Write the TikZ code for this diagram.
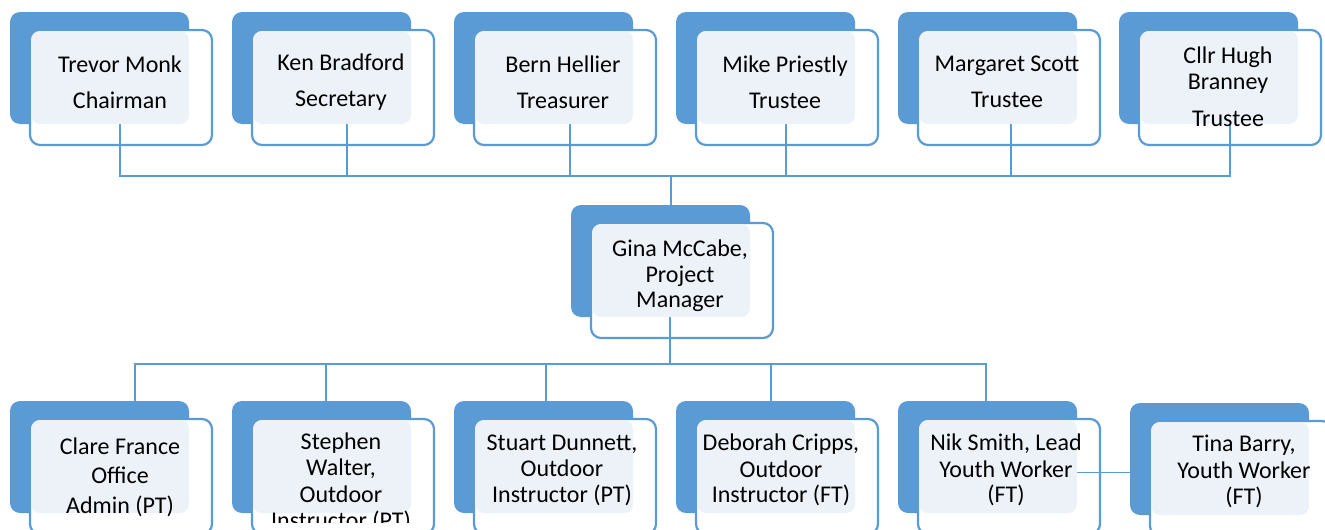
\documentclass[tikz,border=0pt]{standalone}
\usepackage{fontspec}
\setmainfont{Carlito}
\definecolor{obl}{HTML}{5B9BD5}
\definecolor{olt}{HTML}{EDF2F9}
\tikzset{
  backbox/.style={fill=obl, rounded corners=10pt, inner sep=0pt, outer sep=0pt, anchor=north west, minimum width=179pt, minimum height=112pt},
  frontbox/.style={fill=white, draw=obl, line width=2.2pt, rounded corners=10pt, inner sep=0pt, outer sep=0pt, anchor=north west, minimum width=182pt, minimum height=115pt},
  lightbox/.style={fill=olt, rounded corners=9pt, inner sep=0pt, outer sep=0pt, anchor=north west, minimum width=158pt, minimum height=93pt},
  conn/.style={draw=obl, line width=1.3pt},
  lbl/.style={align=center, font=\fontsize{24}{26.5}\selectfont, inner sep=0pt, text=black},
}
\newcommand\mkback[3]{%
  \node[backbox] (bk#1) at (#2,#3) {};
  \node[frontbox] (fr#1) at ({#2+20},{#3+18}) {};
}
\newcommand\mklight[3]{%
  \node[lightbox] (lt#1) at ({#2+21},{#3+19}) {};
}
\begin{document}
\begin{tikzpicture}[x=1pt,y=-1pt]
\useasboundingbox (0,0) rectangle (1325,530);
\clip (0,0) rectangle (1325,530);
% back and front frames
\mkback{1}{10}{12}
\mkback{2}{232}{12}
\mkback{3}{454}{12}
\mkback{4}{676}{12}
\mkback{5}{898}{12}
\mkback{6}{1119}{12}
\mkback{c}{571}{205}
\mkback{7}{10}{401}
\mkback{8}{232}{401}
\mkback{9}{454}{401}
\mkback{10}{676}{401}
\mkback{11}{898}{401}
\mkback{12}{1130}{403}
% connectors
\coordinate (j1) at (671,176);
\coordinate (j2) at (670,364);
\draw[conn] ([xshift=-1pt]fr1.center) |- (j1);
\draw[conn] ([xshift=4pt]fr2.center) |- (j1);
\draw[conn] ([xshift=5pt]fr3.center) |- (j1);
\draw[conn] ([xshift=-1pt]fr4.center) |- (j1);
\draw[conn] ([xshift=2pt]fr5.center) |- (j1);
\draw[conn] (fr6.center) |- (j1);
\draw[conn] (j1) -- (j1 |- bkc.north);
\draw[conn] (j2 |- frc.center) -- (j2);
\draw[conn] (j2) -| ([xshift=35.5pt]bk7.north);
\draw[conn] (j2) -| ([xshift=4.5pt]bk8.north);
\draw[conn] (j2) -| ([xshift=2.5pt]bk9.north);
\draw[conn] (j2) -| ([xshift=5.5pt]bk10.north);
\draw[conn] (j2) -| ([xshift=-1.5pt]bk11.north);
\draw[conn] ([yshift=4pt]fr11.center) -- ([yshift=4pt]fr11.center -| bk12.west);
% light areas
\mklight{1}{10}{12}
\mklight{2}{232}{12}
\mklight{3}{454}{12}
\mklight{4}{676}{12}
\mklight{5}{898}{12}
\mklight{6}{1119}{12}
\mklight{c}{571}{205}
\mklight{7}{10}{401}
\mklight{8}{232}{401}
\mklight{9}{454}{401}
\mklight{10}{676}{401}
\mklight{11}{898}{401}
\mklight{12}{1130}{403}
% texts
\node[lbl] (tx1) at (120,82) {Trevor Monk\\[9.5pt]Chairman};
\node[lbl] (tx2) at (341,82) {Ken Bradford\\[9.5pt]Secretary};
\node[lbl] (tx3) at (563,82) {Bern Hellier\\[9.5pt]Treasurer};
\node[lbl] (tx4) at (785,82) {Mike Priestly\\[9.5pt]Trustee};
\node[lbl] (tx5) at (1007,82) {Margaret Scott\\[9.5pt]Trustee};
\node[lbl] (tx6) at (1228,87) {Cllr Hugh\\Branney\\[10.5pt]Trustee};
\node[lbl] (txc) at (680,276) {Gina McCabe,\\[-1pt]Project\\[-1pt]Manager};
\node[lbl] (tx7) at (120,477) {Clare France\\[3pt]Office\\[3pt]Admin (PT)};
\begin{scope}
\clip (0,0) rectangle (1325,522);
\node[lbl] (tx8) at (341,482.5) {Stephen\\Walter,\\Outdoor\\Instructor (PT)};
\end{scope}
\node[lbl] (tx9) at (562,470) {Stuart Dunnett,\\Outdoor\\[-1pt]Instructor (PT)};
\node[lbl] (tx10) at (781,470) {Deborah Cripps,\\Outdoor\\[-1pt]Instructor (FT)};
\node[lbl] (tx11) at (1006,470) {Nik Smith, Lead\\Youth Worker\\[-1pt](FT)};
\node[lbl] (tx12) at (1244,471.5) {Tina Barry,\\Youth Worker\\(FT)};
\end{tikzpicture}
\end{document}
